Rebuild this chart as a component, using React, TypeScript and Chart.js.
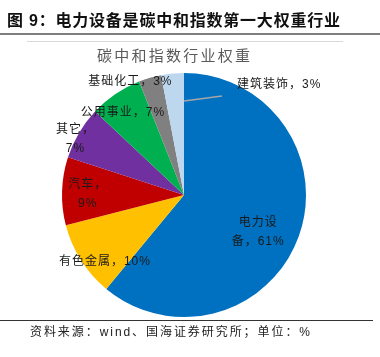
import React, { useEffect, useRef } from "react";
import { Chart, registerables } from "chart.js";

Chart.register(...registerables);

const categories = ["电力设备", "有色金属", "汽车", "其它", "公用事业", "基础化工", "建筑装饰"];
const weights = [61, 10, 9, 7, 7, 3, 3];
const colors = ["#0070C0", "#FFC000", "#C00000", "#7030A0", "#00B050", "#808080", "#BDD7EE"];
const figureTitle = "图 9：电力设备是碳中和指数第一大权重行业";
const chartTitle = "碳中和指数行业权重";
const sourceNote = "资料来源：wind、国海证券研究所；单位：%";
// label line break position (chars in first line), null = single line
const labelBreaks = [3, null, 3, 3, null, null, null];
// label placement: angle offset (deg) from slice middle, fraction of radius; last one uses a leader line
const labelAngleOffset = [6.8, -7.9, -1.2, -3.4, -2.4, -9.1, 0];
const labelRadius = [0.68, 0.85, 0.79, 1.0, 0.84, 1.03, 0];

const CJK = '"Noto Sans CJK SC", sans-serif';
const LAT = '"Liberation Sans", "Noto Sans CJK SC", sans-serif';

function drawFit(ctx: CanvasRenderingContext2D, text: string, x: number, y: number, width: number) {
  (ctx as any).letterSpacing = "0px";
  const w = ctx.measureText(text).width;
  const n = Array.from(text).length;
  const sp = n > 1 ? (width - w) / (n - 1) : 0;
  (ctx as any).letterSpacing = sp + "px";
  ctx.textAlign = "left";
  ctx.fillText(text, x, y);
  (ctx as any).letterSpacing = "0px";
}

const decorPlugin = {
  id: "decor",
  afterDraw(chart: any) {
    const ctx: CanvasRenderingContext2D = chart.ctx;
    ctx.save();
    // figure title
    ctx.fillStyle = "#111111";
    ctx.font = `bold 16px ${LAT}`;
    ctx.textBaseline = "middle";
    drawFit(ctx, figureTitle, 7, 22, 333);
    ctx.strokeStyle = "#7f7f7f";
    ctx.lineWidth = 2;
    ctx.beginPath();
    ctx.moveTo(0, 34);
    ctx.lineTo(380, 34);
    ctx.stroke();
    ctx.strokeStyle = "#d9d9d9";
    ctx.lineWidth = 1;
    ctx.beginPath();
    ctx.moveTo(27, 41.5);
    ctx.lineTo(343, 41.5);
    ctx.stroke();
    // chart title
    ctx.fillStyle = "#595959";
    ctx.font = `15px ${CJK}`;
    drawFit(ctx, chartTitle, 97, 55, 153);
    // bottom source
    ctx.strokeStyle = "#333333";
    ctx.lineWidth = 1;
    ctx.beginPath();
    ctx.moveTo(0, 320.5);
    ctx.lineTo(373, 320.5);
    ctx.stroke();
    ctx.fillStyle = "#222222";
    ctx.font = `12px ${LAT}`;
    drawFit(ctx, sourceNote, 30, 333, 280);

    // data labels
    const meta = chart.getDatasetMeta(0);
    ctx.font = `12px ${LAT}`;
    ctx.fillStyle = "#1a1a1a";
    (ctx as any).letterSpacing = "1px";
    meta.data.forEach((arc: any, i: number) => {
      const p = arc.getProps(["x", "y", "startAngle", "endAngle", "outerRadius"], true);
      const text = `${categories[i]}，${weights[i]}%`;
      const br = labelBreaks[i];
      const lines = br == null ? [text] : [text.slice(0, br), text.slice(br)];
      if (labelRadius[i] > 0) {
        const mid = (p.startAngle + p.endAngle) / 2 + (labelAngleOffset[i] * Math.PI) / 180;
        const r = p.outerRadius * labelRadius[i];
        const cx = p.x + Math.cos(mid) * r;
        const cy = p.y + Math.sin(mid) * r;
        ctx.textAlign = "center";
        const lh = 19;
        lines.forEach((ln, k) => {
          ctx.fillText(ln, cx, cy + (k - (lines.length - 1) / 2) * lh);
        });
      } else {
        const a0 = p.endAngle;
        const r0 = p.outerRadius * 0.77;
        const a1 = p.endAngle + (21 * Math.PI) / 180;
        const r1 = p.outerRadius * 0.87;
        const x0 = p.x + Math.cos(a0) * r0;
        const y0 = p.y + Math.sin(a0) * r0;
        const x1 = p.x + Math.cos(a1) * r1;
        const y1 = p.y + Math.sin(a1) * r1;
        ctx.strokeStyle = "#a6a6a6";
        ctx.lineWidth = 1.5;
        ctx.beginPath();
        ctx.moveTo(x0, y0);
        ctx.lineTo(x1, y1);
        ctx.stroke();
        ctx.textAlign = "left";
        ctx.fillText(text, x1 + 15, y1 - 11);
      }
    });
    ctx.restore();
  },
};

export default function App() {
  const ref = useRef<HTMLCanvasElement | null>(null);
  useEffect(() => {
    if (!ref.current) return;
    const chart = new Chart(ref.current, {
      type: "pie",
      data: {
        labels: categories,
        datasets: [
          {
            data: weights,
            backgroundColor: colors,
            borderWidth: 0,
          },
        ],
      },
      options: {
        animation: false,
        responsive: false,
        devicePixelRatio: 1,
        layout: { padding: { top: 73, bottom: 40, left: 62, right: 74 } },
        plugins: {
          legend: { display: false },
          tooltip: { enabled: false },
          title: { display: false },
        },
      },
      plugins: [decorPlugin],
    });
    return () => chart.destroy();
  }, []);
  return (
    <div style={{ position: "fixed", left: 0, top: 0, width: 380, height: 357, background: "#fff" }}>
      <canvas ref={ref} width={380} height={357} style={{ width: 380, height: 357, display: "block" }} />
    </div>
  );
}
